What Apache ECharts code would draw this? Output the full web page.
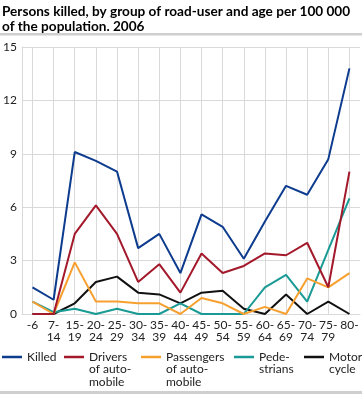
<!DOCTYPE html>
<html>
<head>
<meta charset="utf-8">
<script src="https://cdn.jsdelivr.net/npm/echarts@6/dist/echarts.min.js"></script>
<style>html,body{margin:0;padding:0;background:#fff;}#c{width:362px;height:394px;}</style>
</head>
<body>
<div id="c"></div>
<script>
var categories = ['-6','7-14','15-19','20-24','25-29','30-34','35-39','40-44','45-49','50-54','55-59','60-64','65-69','70-74','75-79','80-'];
var killed      = [1.5,0.8,9.1,8.6,8.0,3.7,4.5,2.3,5.6,4.9,3.1,5.2,7.2,6.7,8.7,13.8];
var drivers     = [0,0,4.5,6.1,4.5,1.8,2.8,1.2,3.4,2.3,2.7,3.4,3.3,4.0,1.5,8.0];
var passengers  = [0.7,0,2.9,0.7,0.7,0.6,0.6,0,0.9,0.6,0,0.4,0,2.0,1.5,2.3];
var pedestrians = [0.7,0.1,0.3,0,0.3,0,0,0.6,0,0,0,1.5,2.2,0.7,3.6,6.5];
var motorcycle  = [0,0,0.6,1.8,2.1,1.2,1.1,0.6,1.2,1.3,0.3,0,1.1,0,0.7,0];
var yTicks = [0,3,6,9,12,15];
var seriesNames = ['Killed','Drivers of automobile','Passengers of automobile','Pedestrians','Motor cycle'];
var legendLabels = ['Killed','Drivers\nof auto-\nmobile','Passengers\nof auto-\nmobile','Pede-\nstrians','Motor\ncycle'];
var colors = ['#0d3b8e','#a3182a','#f7a030','#1a9a94','#111111'];

var FONT = 'Lato';
var chart = echarts.init(document.getElementById('c'));
var allData = [killed, drivers, passengers, pedestrians, motorcycle];
var legendLeft = [2, 64, 141, 234, 304];
var LH = 12.5;
var legends = seriesNames.map(function(n, i){
  var lines = legendLabels[i].split('\n').length;
  var pre = '';
  for (var k = 1; k < lines; k++) pre += '\n';
  var total = lines * 2 - 1;
  var blockH = total * LH;
  return {
    data: [{name: n}],
    left: legendLeft[i],
    top: 357 - blockH / 2,
    padding: 0,
    icon: 'rect',
    itemWidth: 20,
    itemHeight: 2.5,
    selectedMode: false,
    formatter: function(){ return pre + legendLabels[i]; },
    textStyle: {fontFamily: FONT, fontSize: 12, color: '#222', lineHeight: LH}
  };
});

chart.setOption({
  animation: false,
  color: colors,
  title: {
    text: 'Persons killed, by group of road-user and age per 100 000\nof the population. 2006',
    left: 2, top: 4, padding: 0,
    textStyle: {fontFamily: FONT, fontSize: 13.6, fontWeight: 'bold', color: '#000', lineHeight: 15}
  },
  graphic: [
    {type: 'rect', shape: {x: 0, y: 33, width: 362, height: 2.5}, style: {fill: '#cfcfcf'}, silent: true},
    {type: 'rect', shape: {x: 0, y: 391, width: 362, height: 3}, style: {fill: '#cfcfcf'}, silent: true}
  ],
  legend: legends,
  grid: {left: 18.6, right: 2, top: 47, bottom: 80, containLabel: false},
  xAxis: {
    type: 'category',
    data: categories,
    boundaryGap: true,
    axisLine: {show: true, lineStyle: {color: '#d9d9d9', width: 1}},
    axisTick: {show: true, inside: true, length: 267, alignWithLabel: true, lineStyle: {color: '#d9d9d9', width: 1}},
    splitLine: {show: false},
    axisLabel: {
      interval: 0, margin: 5, fontFamily: FONT, fontSize: 12, color: '#222', lineHeight: 12,
      formatter: function(v){ return v.replace(/(\d)-/, '$1-\n').replace(/\n$/, ''); }
    }
  },
  yAxis: {
    type: 'value', min: 0, max: 15, interval: 3,
    axisLine: {show: true, lineStyle: {color: '#d9d9d9', width: 1}},
    axisTick: {show: false},
    splitLine: {show: true, lineStyle: {color: '#d9d9d9', width: 1}},
    axisLabel: {margin: 5, fontFamily: FONT, fontSize: 12, color: '#222',
      formatter: function(v){ return yTicks.indexOf(v) >= 0 ? String(v) : ''; }}
  },
  series: seriesNames.map(function(n, i){
    return {
      name: n, type: 'line', data: allData[i], symbol: 'none', z: 10 - i,
      lineStyle: {width: 2, color: colors[i]}, itemStyle: {color: colors[i]}
    };
  })
});
</script>
</body>
</html>
